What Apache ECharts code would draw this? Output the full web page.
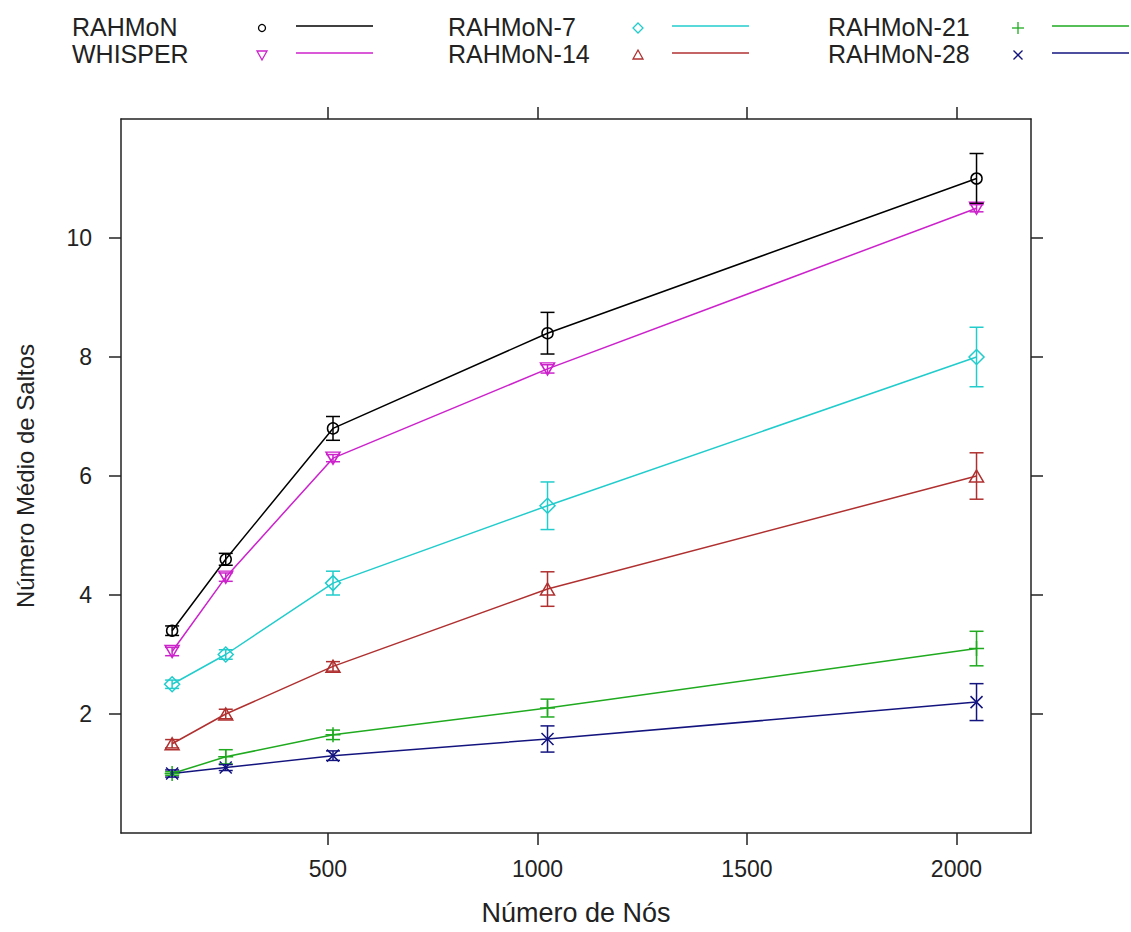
<!DOCTYPE html>
<html>
<head>
<meta charset="utf-8">
<script src="https://cdn.jsdelivr.net/npm/echarts@6/dist/echarts.min.js"></script>
<style>
html,body{margin:0;padding:0;background:#fff;}
#chart{width:1131px;height:932px;}
</style>
</head>
<body>
<div id="chart"></div>
<script>
// ---- data ----
const xValues = [128, 256, 512, 1024, 2048];
const seriesNames = ['RAHMoN', 'WHISPER', 'RAHMoN-7', 'RAHMoN-14', 'RAHMoN-21', 'RAHMoN-28'];
const rahmon    = [3.4, 4.6, 6.8, 8.4, 11.0];
const rahmonErr = [0.08, 0.1, 0.2, 0.35, 0.42];
const whisper    = [3.05, 4.3, 6.3, 7.8, 10.5];
const whisperErr = [0.07, 0.07, 0.06, 0.07, 0.06];
const rahmon7    = [2.5, 3.0, 4.2, 5.5, 8.0];
const rahmon7Err = [0.07, 0.08, 0.2, 0.4, 0.5];
const rahmon14    = [1.5, 2.0, 2.8, 4.1, 6.0];
const rahmon14Err = [0.07, 0.08, 0.08, 0.29, 0.39];
const rahmon21    = [1.0, 1.28, 1.65, 2.1, 3.1];
const rahmon21Err = [0.03, 0.12, 0.08, 0.15, 0.29];
const rahmon28    = [1.0, 1.1, 1.3, 1.58, 2.2];
const rahmon28Err = [0.06, 0.05, 0.08, 0.22, 0.31];
const xTickValues = [500, 1000, 1500, 2000];
const yTickValues = [2, 4, 6, 8, 10];
const xTitle = 'Número de Nós';
const yTitle = 'Número Médio de Saltos';

// ---- styles ----
const values = [rahmon, whisper, rahmon7, rahmon14, rahmon21, rahmon28];
const errors = [rahmonErr, whisperErr, rahmon7Err, rahmon14Err, rahmon21Err, rahmon28Err];
const colors = ['#000000', '#cc22cc', '#22cccc', '#b03030', '#1faa1f', '#14147f'];
const shapes = ['circle', 'tridown', 'diamond', 'triangle', 'plus', 'cross'];
const FONT = '"Liberation Sans", Arial, sans-serif';
const TXT = '#222';

function symbolOf(shape) {
  switch (shape) {
    case 'circle': return {symbol: 'circle', size: 11, rotate: 0};
    case 'tridown': return {symbol: 'triangle', size: [14, 12], rotate: 180};
    case 'diamond': return {symbol: 'diamond', size: [15, 15], rotate: 0};
    case 'triangle': return {symbol: 'triangle', size: [14, 12], rotate: 0};
    case 'plus': return {symbol: 'path://M5,0L5,10M0,5L10,5', size: 15, rotate: 0};
    case 'cross': return {symbol: 'path://M0,0L10,10M10,0L0,10', size: 12, rotate: 0};
  }
}

const series = [];
seriesNames.forEach((name, i) => {
  const c = colors[i];
  const s = symbolOf(shapes[i]);
  series.push({
    name: name,
    type: 'line',
    data: xValues.map((x, j) => [x, values[i][j]]),
    symbol: s.symbol,
    symbolSize: s.size,
    symbolRotate: s.rotate,
    showAllSymbol: true,
    lineStyle: {color: c, width: 1.5},
    itemStyle: {color: 'transparent', borderColor: c, borderWidth: 1.5},
    emphasis: {disabled: true},
    animation: false,
    z: 3
  });
  series.push({
    name: name + ' err',
    type: 'custom',
    data: xValues.map((x, j) => [x, values[i][j] - errors[i][j], values[i][j] + errors[i][j]]),
    encode: {x: 0, y: [1, 2]},
    renderItem: function (params, api) {
      const x = api.value(0);
      const lo = api.coord([x, api.value(1)]);
      const hi = api.coord([x, api.value(2)]);
      const hw = 7;
      const st = {stroke: c, lineWidth: 1.5, fill: null};
      return {
        type: 'group',
        children: [
          {type: 'line', shape: {x1: lo[0], y1: lo[1], x2: hi[0], y2: hi[1]}, style: st},
          {type: 'line', shape: {x1: lo[0] - hw, y1: lo[1], x2: lo[0] + hw, y2: lo[1]}, style: st},
          {type: 'line', shape: {x1: hi[0] - hw, y1: hi[1], x2: hi[0] + hw, y2: hi[1]}, style: st}
        ]
      };
    },
    animation: false,
    z: 4
  });
});

// ---- legend built as graphic ----
const legendCols = [72, 448, 828];
const legendRows = [28, 55];
const graphics = [];
function legendSymbol(shape, cx, cy, c) {
  const st = {stroke: c, lineWidth: 1.3, fill: null};
  switch (shape) {
    case 'circle': return {type: 'circle', shape: {cx: cx, cy: cy, r: 3.5}, style: st};
    case 'tridown': return {type: 'polygon', shape: {points: [[cx - 5, cy - 4], [cx + 5, cy - 4], [cx, cy + 5]]}, style: st};
    case 'triangle': return {type: 'polygon', shape: {points: [[cx - 5, cy + 4], [cx + 5, cy + 4], [cx, cy - 5]]}, style: st};
    case 'diamond': return {type: 'polygon', shape: {points: [[cx, cy - 5], [cx + 5, cy], [cx, cy + 5], [cx - 5, cy]]}, style: st};
    case 'plus': return {type: 'group', children: [
      {type: 'line', shape: {x1: cx - 6, y1: cy, x2: cx + 6, y2: cy}, style: st},
      {type: 'line', shape: {x1: cx, y1: cy - 6, x2: cx, y2: cy + 6}, style: st}]};
    case 'cross': return {type: 'group', children: [
      {type: 'line', shape: {x1: cx - 4.5, y1: cy - 4.5, x2: cx + 4.5, y2: cy + 4.5}, style: st},
      {type: 'line', shape: {x1: cx - 4.5, y1: cy + 4.5, x2: cx + 4.5, y2: cy - 4.5}, style: st}]};
  }
}
seriesNames.forEach((name, i) => {
  const col = Math.floor(i / 2), row = i % 2;
  const tx = legendCols[col], ty = legendRows[row];
  graphics.push({
    type: 'text', left: tx, top: ty - 14,
    style: {text: name, fill: TXT, font: '25px ' + FONT}
  });
  graphics.push(legendSymbol(shapes[i], tx + 190, ty, colors[i]));
  graphics.push({type: 'line', shape: {x1: tx + 224, y1: ty - 2, x2: tx + 301, y2: ty - 2},
    style: {stroke: colors[i], lineWidth: 1.5}});
});

const axisLineStyle = {color: '#222', width: 1.5};
const xMin = 6, xMax = 2178;
const plain = v => String(v);

const option = {
  backgroundColor: '#fff',
  animation: false,
  grid: {left: 121, top: 119, width: 910, height: 714, containLabel: false},
  xAxis: [
    {
      type: 'value', min: xMin, max: xMax, position: 'bottom',
      name: xTitle, nameLocation: 'middle', nameGap: 66,
      nameTextStyle: {color: TXT, fontSize: 27, fontFamily: FONT},
      axisLine: {show: true, onZero: false, lineStyle: axisLineStyle},
      axisTick: {show: true, length: 12, customValues: xTickValues, lineStyle: axisLineStyle},
      axisLabel: {show: true, customValues: xTickValues, formatter: plain, margin: 24, color: TXT, fontSize: 23, fontFamily: FONT},
      splitLine: {show: false}
    },
    {
      type: 'value', min: xMin, max: xMax, position: 'top',
      axisLine: {show: true, onZero: false, lineStyle: axisLineStyle},
      axisTick: {show: true, length: 12, customValues: xTickValues, lineStyle: axisLineStyle},
      axisLabel: {show: false},
      splitLine: {show: false}
    }
  ],
  yAxis: [
    {
      type: 'value', min: 0, max: 12, position: 'left',
      name: yTitle, nameLocation: 'middle', nameGap: 84, nameRotate: 90,
      nameTextStyle: {color: TXT, fontSize: 24, fontFamily: FONT},
      axisLine: {show: true, onZero: false, lineStyle: axisLineStyle},
      axisTick: {show: true, length: 12, customValues: yTickValues, lineStyle: axisLineStyle},
      axisLabel: {show: true, customValues: yTickValues, formatter: plain, margin: 29, color: TXT, fontSize: 23, fontFamily: FONT},
      splitLine: {show: false}
    },
    {
      type: 'value', min: 0, max: 12, position: 'right',
      axisLine: {show: true, onZero: false, lineStyle: axisLineStyle},
      axisTick: {show: true, length: 12, customValues: yTickValues, lineStyle: axisLineStyle},
      axisLabel: {show: false},
      splitLine: {show: false}
    }
  ],
  series: series,
  graphic: graphics
};

const chart = echarts.init(document.getElementById('chart'), null, {renderer: 'svg', width: 1131, height: 932});
chart.setOption(option);
</script>
</body>
</html>
